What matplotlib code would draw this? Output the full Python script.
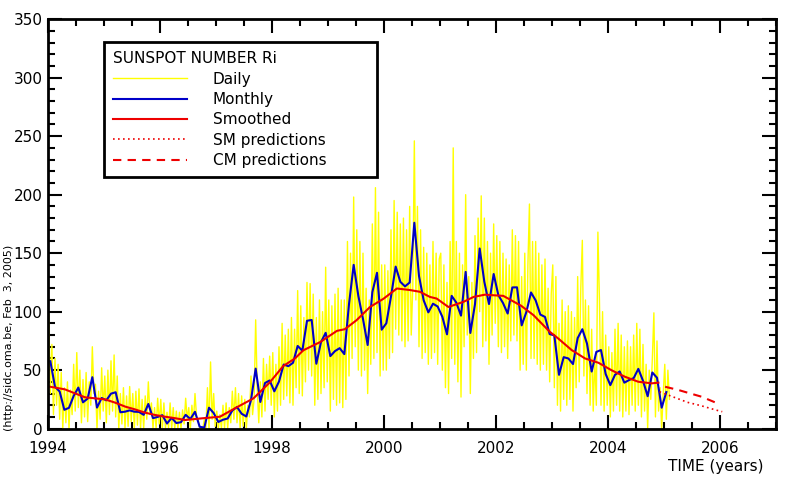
import matplotlib

matplotlib.use("Agg")
import matplotlib.pyplot as plt
import numpy as np
from matplotlib.ticker import MultipleLocator

plt.rcParams["font.family"] = ["DejaVu Sans"]

# monthly mean sunspot number Ri, Jan 1994 .. Jan 2005
monthly_ri = [
    57.6, 35.8, 31.7, 16.1, 17.8, 28.0, 35.1, 22.5, 25.7, 44.0, 18.0, 26.2,  # 1994
    24.2, 29.9, 31.1, 14.0, 14.5, 15.6, 14.5, 14.3, 11.8, 21.1, 9.0, 10.0,  # 1995
    11.5, 4.4, 9.2, 4.8, 5.5, 11.8, 8.2, 14.4, 1.6, 0.9, 17.9, 13.3,  # 1996
    5.7, 7.6, 8.7, 15.5, 18.5, 12.7, 10.4, 24.4, 51.3, 22.8, 39.0, 41.2,  # 1997
    31.9, 40.3, 54.8, 53.4, 56.3, 70.7, 66.6, 92.2, 92.9, 55.5, 74.0, 81.9,  # 1998
    62.0, 66.3, 68.8, 63.7, 106.4, 140.0, 113.5, 93.7, 71.5, 116.7, 133.2, 84.6,  # 1999
    90.1, 112.9, 138.5, 125.5, 121.6, 124.9, 176.0, 130.5, 109.7, 99.4, 106.8, 104.4,  # 2000
    95.6, 80.6, 113.5, 107.7, 96.6, 134.0, 81.8, 106.4, 154.0, 125.5, 106.5, 132.2,  # 2001
    114.1, 107.4, 98.4, 120.7, 120.8, 88.3, 99.6, 116.4, 109.6, 97.5, 95.5, 80.8,  # 2002
    79.7, 46.0, 61.1, 60.0, 55.2, 77.4, 85.0, 72.7, 48.8, 65.6, 67.2, 46.7,  # 2003
    37.2, 46.0, 48.9, 39.3, 41.5, 43.2, 51.1, 40.9, 27.7, 48.0, 43.5, 17.9,  # 2004
    31.3,  # 2005
]

# daily values (3 samples per month)
daily_1994 = [98, 30, 72, 12, 60, 20, 55, 8, 48, 0, 35, 5,
              40, 0, 33, 12, 55, 15, 65, 18, 50, 5, 42, 10,
              48, 6, 40, 20, 70, 30, 38, 0, 32, 8, 52, 15]
daily_1995 = [45, 5, 50, 12, 58, 15, 63, 10, 45, 0, 30, 4,
              35, 0, 28, 2, 36, 6, 30, 0, 32, 3, 34, 0,
              25, 0, 28, 8, 40, 12, 22, 0, 18, 0, 26, 4]
daily_1996 = [25, 0, 22, 0, 14, 0, 22, 0, 18, 0, 15, 0,
              14, 0, 16, 4, 26, 8, 18, 0, 20, 6, 30, 10,
              8, 0, 0, 0, 8, 0, 35, 0, 57, 8, 30, 2]
daily_1997 = [15, 0, 12, 0, 20, 0, 22, 0, 18, 5, 32, 8,
              35, 5, 30, 0, 28, 2, 25, 0, 20, 10, 45, 12,
              25, 93, 35, 5, 40, 10, 60, 15, 55, 25, 62, 20]
daily_1998 = [65, 10, 55, 15, 70, 20, 90, 25, 80, 28, 85, 22,
              95, 20, 85, 35, 118, 30, 105, 28, 95, 40, 125, 50,
              124, 45, 115, 20, 95, 25, 110, 30, 100, 35, 138, 40]
daily_1999 = [110, 15, 105, 25, 115, 20, 120, 22, 110, 18, 110, 25,
              160, 45, 150, 60, 198, 70, 170, 50, 160, 45, 150, 50,
              120, 30, 110, 55, 175, 60, 206, 65, 185, 45, 140, 50]
daily_2000 = [140, 50, 135, 60, 170, 65, 195, 85, 185, 80, 175, 75,
              180, 70, 170, 75, 190, 80, 120, 246, 110, 190, 70, 170,
              60, 155, 65, 150, 55, 140, 60, 160, 65, 150, 55, 145]
daily_2001 = [150, 50, 140, 35, 125, 30, 160, 60, 240, 55, 160, 40,
              150, 27, 140, 70, 200, 80, 130, 30, 125, 60, 165, 65,
              180, 100, 199, 70, 180, 75, 160, 55, 150, 80, 175, 90]
daily_2002 = [165, 70, 160, 65, 150, 70, 145, 60, 140, 75, 170, 80,
              165, 75, 160, 50, 130, 55, 150, 50, 140, 192, 60, 160,
              60, 160, 55, 150, 50, 140, 55, 145, 50, 120, 40, 115]
daily_2003 = [140, 35, 130, 20, 90, 15, 110, 25, 100, 20, 105, 25,
              100, 15, 95, 35, 130, 40, 120, 161, 45, 110, 30, 105,
              20, 85, 15, 60, 20, 168, 110, 20, 100, 15, 80, 20]
daily_2004 = [70, 10, 65, 15, 85, 20, 90, 15, 80, 10, 70, 15,
              75, 12, 70, 20, 80, 15, 90, 20, 85, 10, 72, 15,
              55, 0, 50, 25, 60, 99, 10, 75, 15, 35, 0, 30]
daily_2005 = [55, 8, 50, 25]

# 13-month smoothed Ri
smooth_years = [1994.04, 1994.30, 1994.48, 1994.66, 1994.84, 1995.02, 1995.20,
                1995.38, 1995.55, 1995.73, 1995.91, 1996.09, 1996.27, 1996.45,
                1996.77, 1997.07, 1997.37, 1997.67, 1997.96, 1998.20, 1998.41,
                1998.56, 1998.86, 1999.16, 1999.30, 1999.51, 1999.75, 1999.99,
                2000.23, 2000.46, 2000.64, 2000.82, 2000.94, 2001.15, 2001.42,
                2001.60, 2001.80, 2002.13, 2002.45, 2002.67, 2002.96, 2003.11,
                2003.35, 2003.59, 2003.83, 2004.06, 2004.30, 2004.54, 2004.78,
                2004.90]
smooth_ri = [35.8, 33.6, 30.2, 26.8, 25.9, 25.0, 22.2,
             18.8, 16.5, 13.7, 11.7, 10.2, 8.9, 7.4,
             8.9, 10.2, 18.2, 25.9, 39.5, 53.5, 60.0,
             67.0, 74.0, 83.6, 85.0, 92.7, 104.0, 111.0,
             119.8, 118.5, 117.0, 112.6, 111.2, 104.0, 108.4,
             112.6, 114.5, 113.5, 105.0, 97.0, 82.8, 77.1,
             67.2, 60.0, 56.3, 50.0, 44.4, 40.1, 38.7,
             39.3]

# predictions
sm_pred_years = [2004.92, 2005.17, 2005.42, 2005.67, 2005.92, 2006.04]
sm_pred_ri = [31.5, 27.0, 22.5, 19.5, 16.0, 14.5]
cm_pred_years = [2005.02, 2005.26, 2005.46, 2005.67, 2005.91]
cm_pred_ri = [35.8, 33.0, 30.2, 27.3, 22.5]

daily_ri = (daily_1994 + daily_1995 + daily_1996 + daily_1997 + daily_1998
            + daily_1999 + daily_2000 + daily_2001 + daily_2002 + daily_2003
            + daily_2004 + daily_2005)
daily_years = 1994 + (np.arange(len(daily_ri)) + 0.5) / 36
monthly_years = 1994 + (np.arange(len(monthly_ri)) + 0.5) / 12

fig = plt.figure(figsize=(8, 4.8), dpi=100)
ax = fig.add_axes([0.06, 0.107, 0.91, 0.853])

h_daily, = ax.plot(daily_years, daily_ri, color="#ffff00", lw=1.0)
h_monthly, = ax.plot(monthly_years, monthly_ri, color="#0000c8", lw=1.5)
h_smooth, = ax.plot(smooth_years, smooth_ri, color="#ee0000", lw=1.5)
h_sm, = ax.plot(sm_pred_years, sm_pred_ri, color="#ee0000", lw=1.2,
                linestyle=(0, (1, 2)))
h_cm, = ax.plot(cm_pred_years, cm_pred_ri, color="#ee0000", lw=1.5,
                linestyle=(0, (4, 3)))

ax.set_xlim(1994, 2007)
ax.set_ylim(0, 350)
ax.xaxis.set_major_locator(MultipleLocator(2))
ax.xaxis.set_minor_locator(MultipleLocator(0.5))
ax.yaxis.set_major_locator(MultipleLocator(50))
ax.yaxis.set_minor_locator(MultipleLocator(10))
ax.tick_params(which="both", direction="in", top=True, right=True,
               width=1.5, labelsize=11, colors="black")
ax.tick_params(which="major", length=10)
ax.tick_params(which="minor", length=5)
ax.tick_params(axis="x", pad=9)
ax.tick_params(axis="y", pad=4)
for spine in ax.spines.values():
    spine.set_linewidth(2)

leg = ax.legend(
    [h_daily, h_monthly, h_smooth, h_sm, h_cm],
    ["Daily", "Monthly", "Smoothed", "SM predictions", "CM predictions"],
    title="SUNSPOT NUMBER Ri",
    loc="upper left",
    bbox_to_anchor=(0.077, 0.614, 0.375, 0.33),
    mode="expand",
    fontsize=11,
    title_fontsize=11,
    fancybox=False,
    framealpha=1,
    edgecolor="black",
    handlelength=4.8,
    handletextpad=1.7,
    labelspacing=0.35,
    borderpad=0.6,
    borderaxespad=0,
    alignment="left",
)
leg.get_frame().set_linewidth(2)

fig.text(0.011, 0.297, "(http://sidc.oma.be, Feb  3, 2005)", rotation=90,
         fontsize=8, ha="center", va="center")
fig.text(763 / 800, 1 - 467 / 480, "TIME (years)", fontsize=11,
         ha="right", va="center")

fig.savefig("out.png", dpi=100)
